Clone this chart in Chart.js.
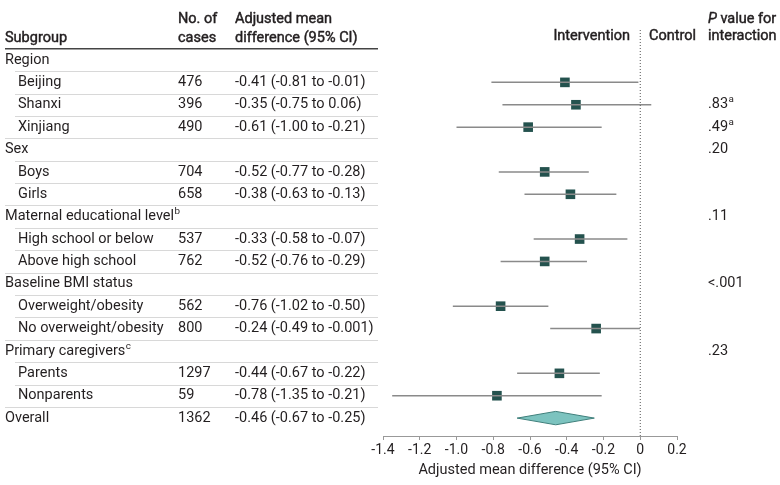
<!DOCTYPE html>
<html>
<head>
<meta charset="utf-8">
<script src="https://cdn.jsdelivr.net/npm/chart.js@4"></script>
<style>
  html, body { margin: 0; padding: 0; background: #fff; }
  #wrap { width: 780px; height: 485px; position: relative; }
</style>
</head>
<body>
<div id="wrap"><canvas id="forest"></canvas></div>
<script>
// Rows, top to bottom
const subgroups = ['Region', 'Beijing', 'Shanxi', 'Xinjiang', 'Sex', 'Boys', 'Girls',
  'Maternal educational level', 'High school or below', 'Above high school',
  'Baseline BMI status', 'Overweight/obesity', 'No overweight/obesity',
  'Primary caregivers', 'Parents', 'Nonparents', 'Overall'];
const isHeading = [true, false, false, false, true, false, false, true, false, false,
  true, false, false, true, false, false, true];
const labelSup = ['', '', '', '', '', '', '', 'b', '', '', '', '', '', 'c', '', '', ''];
const cases = ['', '476', '396', '490', '', '704', '658', '', '537', '762', '', '562', '800',
  '', '1297', '59', '1362'];
const ciText = ['', '-0.41 (-0.81 to -0.01)', '-0.35 (-0.75 to 0.06)', '-0.61 (-1.00 to -0.21)', '',
  '-0.52 (-0.77 to -0.28)', '-0.38 (-0.63 to -0.13)', '',
  '-0.33 (-0.58 to -0.07)', '-0.52 (-0.76 to -0.29)', '',
  '-0.76 (-1.02 to -0.50)', '-0.24 (-0.49 to -0.001)', '',
  '-0.44 (-0.67 to -0.22)', '-0.78 (-1.35 to -0.21)', '-0.46 (-0.67 to -0.25)'];
const estimates = [null, -0.41, -0.35, -0.61, null, -0.52, -0.38, null, -0.33, -0.52, null,
  -0.76, -0.24, null, -0.44, -0.78, -0.46];
const lower = [null, -0.81, -0.75, -1.00, null, -0.77, -0.63, null, -0.58, -0.76, null,
  -1.02, -0.49, null, -0.67, -1.35, -0.67];
const upper = [null, -0.01, 0.06, -0.21, null, -0.28, -0.13, null, -0.07, -0.29, null,
  -0.50, -0.001, null, -0.22, -0.21, -0.25];
const pValues = ['', '', '.83', '.49', '.20', '', '', '.11', '', '', '<.001', '', '', '.23', '', '', ''];
const pSup = ['', '', 'a', 'a', '', '', '', '', '', '', '', '', '', '', '', '', ''];
const xTicks = [-1.4, -1.2, -1.0, -0.8, -0.6, -0.4, -0.2, 0, 0.2];

const overallRow = subgroups.length - 1;
const FONT = 'Roboto, "Liberation Sans", sans-serif';
const TEXT = '#231f20';
const MARKER = '#24524e';

// CI whiskers as one line with gaps
const ciPoints = [];
const squares = [];
estimates.forEach((est, i) => {
  if (est === null || i === overallRow) return;
  ciPoints.push({ x: lower[i], y: i }, { x: upper[i], y: i }, { x: null, y: null });
  squares.push({ x: est, y: i });
});

// Overall diamond
const diamond = [
  { x: lower[overallRow], y: overallRow },
  { x: estimates[overallRow], y: overallRow - 0.3 },
  { x: upper[overallRow], y: overallRow },
  { x: estimates[overallRow], y: overallRow + 0.3 },
  { x: lower[overallRow], y: overallRow },
];

function drawSup(ctx, text, sup, x, y, size) {
  ctx.fillText(text, x, y);
  if (!sup) return;
  const w = ctx.measureText(text).width;
  const saved = ctx.font;
  ctx.font = `${size * 0.68}px ${FONT}`;
  ctx.fillText(sup, x + w + 0.5, y - size * 0.33);
  ctx.font = saved;
}

// medium-weight look for header text
function heavy(ctx, text, x, y) {
  ctx.fillText(text, x, y);
  ctx.strokeText(text, x, y);
}

const tablePlugin = {
  id: 'table',
  afterDraw(chart) {
    const { ctx } = chart;
    const y = chart.scales.y;
    const size = 14.5;
    ctx.save();
    ctx.textBaseline = 'middle';
    ctx.fillStyle = TEXT;
    ctx.strokeStyle = TEXT;
    ctx.lineWidth = 0.45;

    // header
    const head = `${size}px ${FONT}`;
    ctx.font = head;
    ctx.textAlign = 'left';
    heavy(ctx, 'Subgroup', 5, 38);
    heavy(ctx, 'No. of', 178, 19);
    heavy(ctx, 'cases', 178, 38);
    heavy(ctx, 'Adjusted mean', 235, 19);
    heavy(ctx, 'difference (95% CI)', 235, 38);
    ctx.textAlign = 'right';
    heavy(ctx, 'Intervention', 630, 36);
    ctx.textAlign = 'left';
    heavy(ctx, 'Control', 649, 36);
    ctx.font = `italic ${size}px ${FONT}`;
    heavy(ctx, 'P', 708, 19);
    const pw = ctx.measureText('P ').width;
    ctx.font = head;
    heavy(ctx, 'value for', 708 + pw, 19);
    heavy(ctx, 'interaction', 708, 36);

    // header rule
    ctx.strokeStyle = '#444';
    ctx.lineWidth = 1.5;
    ctx.beginPath();
    ctx.moveTo(5, y.getPixelForValue(-0.5));
    ctx.lineTo(378, y.getPixelForValue(-0.5));
    ctx.stroke();

    // row separators
    ctx.strokeStyle = '#d8d8d8';
    ctx.lineWidth = 1;
    for (let i = 1; i < subgroups.length; i++) {
      const py = Math.round(y.getPixelForValue(i - 0.5)) + 0.5;
      ctx.beginPath();
      ctx.moveTo(isHeading[i] ? 5 : 15, py);
      ctx.lineTo(378, py);
      ctx.stroke();
    }

    // rows
    ctx.font = `${size}px ${FONT}`;
    ctx.textAlign = 'left';
    subgroups.forEach((label, i) => {
      const py = y.getPixelForValue(i);
      drawSup(ctx, label, labelSup[i], isHeading[i] ? 5 : 18, py, size);
      ctx.fillText(cases[i], 178, py);
      ctx.fillText(ciText[i], 235, py);
      drawSup(ctx, pValues[i], pSup[i], 708, py, size);
    });
    ctx.restore();
  }
};

new Chart(document.getElementById('forest'), {
  type: 'scatter',
  data: {
    datasets: [
      {
        // null line
        data: [{ x: 0, y: -1.34 }, { x: 0, y: 16.8 }],
        showLine: true,
        borderColor: '#555',
        borderWidth: 1,
        borderDash: [1, 2],
        pointRadius: 0,
      },
      {
        data: ciPoints,
        showLine: true,
        spanGaps: false,
        borderColor: '#8a8a8a',
        borderWidth: 1.5,
        pointRadius: 0,
      },
      {
        data: squares,
        pointStyle: 'rect',
        pointRadius: 6.8,
        backgroundColor: MARKER,
        borderColor: MARKER,
        borderWidth: 0,
      },
      {
        data: diamond,
        showLine: true,
        fill: 'shape',
        tension: 0,
        backgroundColor: '#7cc3bf',
        borderColor: '#3f7f7b',
        borderWidth: 1,
        pointRadius: 0,
      }
    ]
  },
  options: {
    responsive: true,
    maintainAspectRatio: false,
    animation: false,
    events: [],
    layout: { padding: { left: 383, right: 103, top: 30, bottom: 0 } },
    plugins: {
      legend: { display: false },
      tooltip: { enabled: false }
    },
    scales: {
      x: {
        type: 'linear',
        min: -1.4,
        max: 0.2,
        afterBuildTicks: s => { s.ticks = xTicks.map(v => ({ value: v })); },
        afterFit: s => { s.height = 49; },
        grid: { drawOnChartArea: false, color: '#999', tickLength: 4 },
        border: { color: '#999', width: 1 },
        ticks: {
          color: TEXT,
          font: { family: FONT, size: 14 },
          padding: 2,
          maxRotation: 0,
          callback: v => (v === 0 ? '0' : v.toFixed(1))
        },
        title: {
          display: true,
          text: 'Adjusted mean difference (95% CI)',
          color: TEXT,
          font: { family: FONT, size: 14.5 },
          padding: { top: 0, bottom: 6 }
        }
      },
      y: {
        type: 'linear',
        display: false,
        reverse: true,
        min: -1.34,
        max: 16.8
      }
    }
  },
  plugins: [tablePlugin]
});
</script>
</body>
</html>
